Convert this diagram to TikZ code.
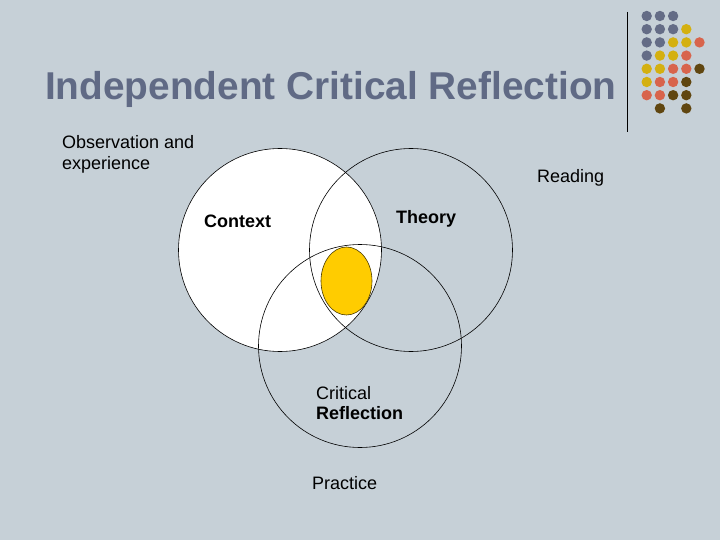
\documentclass[tikz,border=0pt]{standalone}
\usepackage{fontspec}
\setmainfont{Liberation Sans}
\usetikzlibrary{shapes.geometric}
\definecolor{bgc}{RGB}{198,208,215}
\definecolor{titlec}{RGB}{96,106,133}
\definecolor{dotB}{RGB}{100,108,134}
\definecolor{dotY}{RGB}{212,176,16}
\definecolor{dotR}{RGB}{216,100,76}
\definecolor{dotK}{RGB}{96,70,16}
\definecolor{goldc}{RGB}{255,204,0}
\tikzset{
  lbl/.style={anchor=base west, inner sep=0pt, font=\fontsize{18}{21.6}\selectfont},
  lblb/.style={lbl, font=\fontsize{18}{21.6}\selectfont\bfseries},
  venn/.style={circle, draw=black, line width=0.6pt, minimum size=203pt, inner sep=0pt},
}
\begin{document}
\begin{tikzpicture}[x=1pt,y=-1pt]
\fill[bgc] (0,0) rectangle (720,540);
\useasboundingbox (0,0) rectangle (720,540);
% title
\node[anchor=base west, inner sep=0pt, text=titlec, font=\fontsize{38.8}{46}\selectfont\bfseries] (title) at (45,99.5) {Independent Critical Reflection};
% vertical rule
\draw[black, line width=1pt] (627,12) -- (627,132);
% dot grid
\foreach \c/\r/\col in {0/0/dotB,1/0/dotB,2/0/dotB,
  0/1/dotB,1/1/dotB,2/1/dotB,3/1/dotY,
  0/2/dotB,1/2/dotB,2/2/dotY,3/2/dotY,4/2/dotR,
  0/3/dotB,1/3/dotY,2/3/dotY,3/3/dotR,
  0/4/dotY,1/4/dotY,2/4/dotR,3/4/dotR,4/4/dotK,
  0/5/dotY,1/5/dotR,2/5/dotR,3/5/dotK,
  0/6/dotR,1/6/dotR,2/6/dotK,3/6/dotK,
  1/7/dotK,3/7/dotK}
  \fill[\col] (646.7+13.2*\c, 16+13.2*\r) circle (5.2);
% venn circles
\node[venn, fill=white] (context) at (280,250) {};
\node[venn] (theory) at (411,250) {};
\node[venn] (practice) at (360,346) {};
\node[ellipse, fill=goldc, draw=black!70!goldc, line width=0.6pt, minimum width=51pt, minimum height=68pt, inner sep=0pt] (core) at (346.5,281) {};
% labels
\node[lbl] (obs1) at (62,149) {Observation and};
\node[lbl] (obs2) at (62,170) {experience};
\node[lbl] (reading) at (537,183) {Reading};
\node[lblb] (ctx) at (204,228) {Context};
\node[lblb] (thy) at (396,223) {Theory};
\node[lbl] (crit) at (316,399) {Critical};
\node[lblb] (refl) at (316,419) {Reflection};
\node[lbl] (prac) at (312,489) {Practice};
\end{tikzpicture}
\end{document}
